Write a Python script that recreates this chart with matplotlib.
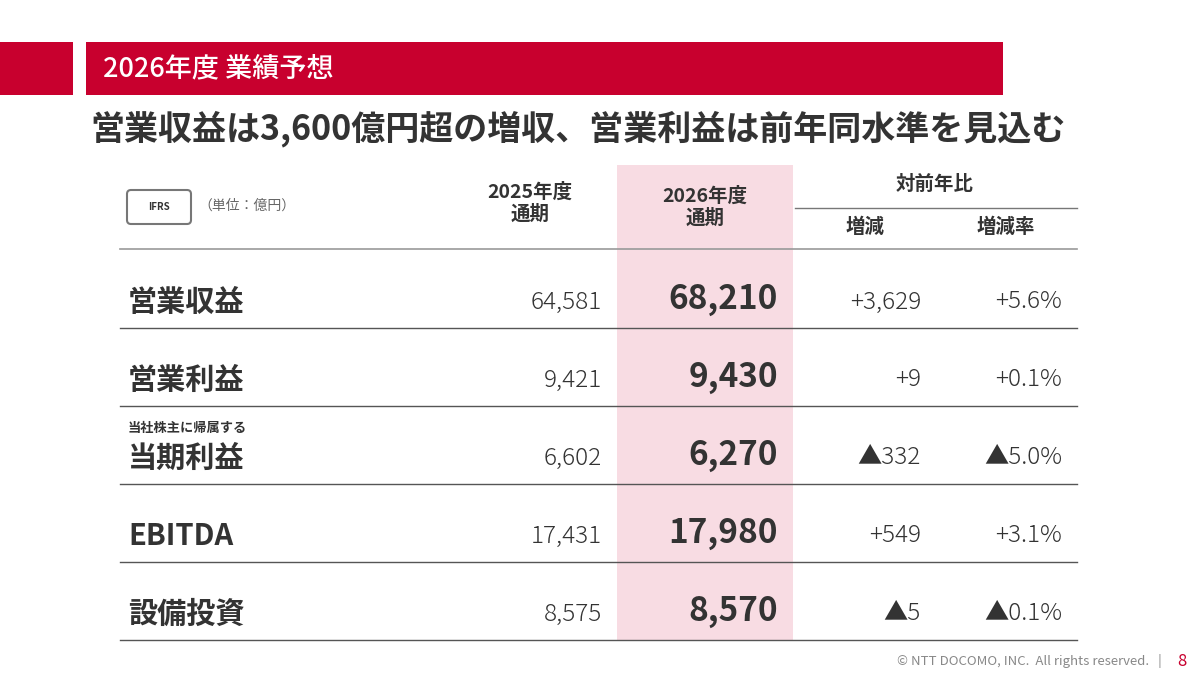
import matplotlib.pyplot as plt
from matplotlib.patches import Rectangle, FancyBboxPatch

plt.rcParams['font.family'] = ['Noto Sans CJK JP', 'DejaVu Sans']

# data
items = ['営業収益', '営業利益', '当期利益', 'EBITDA', '設備投資']
fy2025 = [64581, 9421, 6602, 17431, 8575]
fy2026 = [68210, 9430, 6270, 17980, 8570]
diff = [3629, 9, -332, 549, -5]
rate = [5.6, 0.1, -5.0, 3.1, -0.1]

RED = '#C8002E'
DARK = '#333333'


def signed(v, fmt):
    return ('+' if v >= 0 else '▲') + format(abs(v), fmt)


fig = plt.figure(figsize=(12, 6.75), dpi=100)
ax = fig.add_axes([0, 0, 1, 1])
ax.set_xlim(0, 1200)
ax.set_ylim(675, 0)
ax.axis('off')

# header band
ax.add_patch(Rectangle((0, 42), 73, 53, color=RED, lw=0))
ax.add_patch(Rectangle((86, 42), 917, 53, color=RED, lw=0))
ax.text(103, 69, '2026年度 業績予想', color='white', fontsize=19.5, va='center', weight='medium')
ax.text(90, 129, '営業収益は3,600億円超の増収、営業利益は前年同水準を見込む',
        color=DARK, fontsize=24.5, va='center', weight='bold')

# highlighted column
ax.add_patch(Rectangle((617, 165), 176, 475, color='#F8DCE3', lw=0))

# unit box
ax.add_patch(FancyBboxPatch((127, 190), 64, 34, boxstyle='round,pad=0,rounding_size=4',
                            fc='white', ec='#777777', lw=1.5))
ax.text(159, 207, 'IFRS', fontsize=7, ha='center', va='center', color=DARK, weight='bold')
ax.text(198, 206, '（単位：億円）', fontsize=10, va='center', color='#666666')

hdr = dict(fontsize=14, ha='center', va='center', color=DARK, weight='bold')
ax.text(530, 203, '2025年度\n通期', linespacing=1.15, **hdr)
ax.text(705, 207, '2026年度\n通期', linespacing=1.15, **hdr)
ax.text(935, 184, '対前年比', **hdr)
ax.plot([795, 1077], [208, 208], color='#777777', lw=1)
ax.text(865, 227, '増減', **hdr)
ax.text(1006, 227, '増減率', **hdr)
ax.plot([120, 1077], [249, 249], color='#999999', lw=1.2)

# rows
num = dict(fontsize=17.5, ha='right', va='center', color=DARK, weight='light')
for i, name in enumerate(items):
    yc = 302 + 78 * i
    ax.text(128, yc, name, fontsize=21, va='center', color=DARK, weight='bold')
    if name == '当期利益':
        ax.text(128, 428, '当社株主に帰属する', fontsize=9.5, va='center', color=DARK, weight='bold')
    ax.text(602, yc, f'{fy2025[i]:,}', **num)
    ax.text(778, yc - 3, f'{fy2026[i]:,}', fontsize=24, ha='right', va='center', color=DARK,
            weight='bold')
    ax.text(921, yc, signed(diff[i], ','), **num)
    ax.text(1062, yc, signed(rate[i], '.1f') + '%', **num)
    ax.plot([120, 1077], [yc + 26, yc + 26], color='#555555', lw=1)

ax.text(1162, 661, '© NTT DOCOMO, INC.  All rights reserved.   |', fontsize=9.5, ha='right',
        va='center', color='#888888')
ax.text(1182, 661, '8', fontsize=12, ha='center', va='center', color=RED)

fig.savefig('out.png', dpi=100)
